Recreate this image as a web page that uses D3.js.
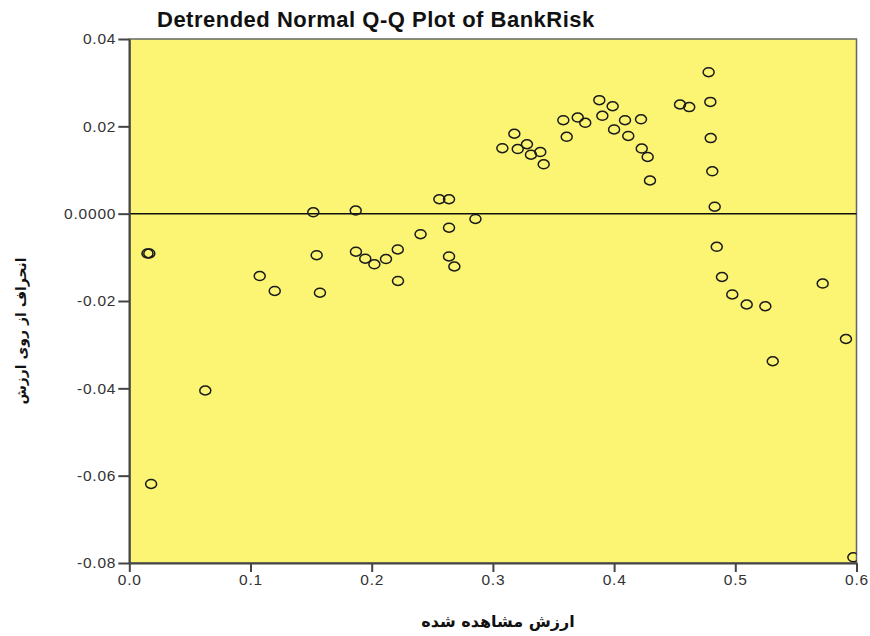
<!DOCTYPE html>
<html>
<head>
<meta charset="utf-8">
<script src="https://cdn.jsdelivr.net/npm/d3@7"></script>
<style>
  body { margin: 0; background: #fff; }
  svg text { font-family: "Liberation Sans", Arial, sans-serif; }
</style>
</head>
<body>
<div id="chart"></div>
<script>
const observed = [
  0.0150, 0.0165, 0.0180, 0.0627, 0.1076, 0.1200, 0.1518, 0.1546, 0.1573, 0.1868,
  0.1870, 0.1947, 0.2022, 0.2118, 0.2215, 0.2217, 0.2403, 0.2558, 0.2638, 0.2638,
  0.2638, 0.2682, 0.2856, 0.3078, 0.3177, 0.3205, 0.3281, 0.3314, 0.3391, 0.3419,
  0.3581, 0.3609, 0.3700, 0.3762, 0.3878, 0.3903, 0.3988, 0.4000, 0.4090, 0.4117,
  0.4222, 0.4228, 0.4277, 0.4296, 0.4544, 0.4620, 0.4780, 0.4794, 0.4797, 0.4810,
  0.4830, 0.4847, 0.4890, 0.4975, 0.5094, 0.5248, 0.5309, 0.5721, 0.5913, 0.5974
]
const deviation = [
  -0.0091, -0.0091, -0.0619, -0.0405, -0.0143, -0.0177, 0.0003, -0.0095, -0.0181, 0.0007,
  -0.0087, -0.0103, -0.0116, -0.0104, -0.0082, -0.0154, -0.0047, 0.0033, 0.0033, -0.0032,
  -0.0098, -0.0121, -0.0012, 0.0150, 0.0183, 0.0148, 0.0159, 0.0135, 0.0141, 0.0113,
  0.0214, 0.0176, 0.0220, 0.0208, 0.0260, 0.0224, 0.0246, 0.0193, 0.0214, 0.0178,
  0.0216, 0.0149, 0.0130, 0.0076, 0.0250, 0.0244, 0.0324, 0.0256, 0.0173, 0.0097,
  0.0016, -0.0076, -0.0145, -0.0185, -0.0208, -0.0212, -0.0338, -0.0160, -0.0287, -0.0787
]
const xTicks = [0, 0.1, 0.2, 0.3, 0.4, 0.5, 0.6],
      xTickLabels = ['0.0', '0.1', '0.2', '0.3', '0.4', '0.5', '0.6']
const yTicks = [0.04, 0.02, 0, -0.02, -0.04, -0.06, -0.08],
      yTickLabels = ['0.04', '0.02', '0.0000', '-0.02', '-0.04', '-0.06', '-0.08']

const title = 'Detrended Normal Q-Q Plot of BankRisk',
      xTitle = 'ارزش مشاهده شده',
      yTitle = 'انحراف از روی ارزش'

const width = 870,
      height = 636,
      plotLeft = 129.3,
      plotRight = 856.5,
      plotTop = 39,
      plotBottom = 563

const xScale = d3.scaleLinear().domain([0, 0.6]).range([plotLeft, plotRight]),
      yScale = d3.scaleLinear().domain([-0.08, 0.04]).range([plotBottom, plotTop])

const svg = d3.select('#chart')
              .append('svg')
              .attr('width', width)
              .attr('height', height)

svg.append('defs')
   .append('clipPath')
   .attr('id', 'plot-clip')
   .append('rect')
   .attr('x', plotLeft)
   .attr('y', plotTop)
   .attr('width', plotRight - plotLeft)
   .attr('height', plotBottom - plotTop)

// plot background + frame
svg.append('rect')
   .attr('x', plotLeft)
   .attr('y', plotTop)
   .attr('width', plotRight - plotLeft)
   .attr('height', plotBottom - plotTop)
   .attr('fill', '#fbf573')
   .attr('stroke', '#666')
   .attr('stroke-width', 1.5)

// zero reference line
svg.append('line')
   .attr('x1', plotLeft)
   .attr('x2', plotRight)
   .attr('y1', yScale(0))
   .attr('y2', yScale(0))
   .attr('stroke', '#111')
   .attr('stroke-width', 1.5)

const points = observed.map(function(d, i) { return [d, deviation[i]] })

svg.append('g')
   .attr('clip-path', 'url(#plot-clip)')
   .selectAll('ellipse')
   .data(points)
   .enter()
   .append('ellipse')
   .attr('cx', function(d) { return xScale(d[0]) })
   .attr('cy', function(d) { return yScale(d[1]) })
   .attr('rx', 5.5)
   .attr('ry', 4.5)
   .attr('fill', 'none')
   .attr('stroke', '#1a1a1a')
   .attr('stroke-width', 1.5)

const xAxis = d3.axisBottom(xScale)
                .tickValues(xTicks)
                .tickFormat(function(d, i) { return xTickLabels[i] })
                .tickSize(9)
                .tickSizeOuter(0)
                .tickPadding(2),
      yAxis = d3.axisLeft(yScale)
                .tickValues(yTicks)
                .tickFormat(function(d, i) { return yTickLabels[i] })
                .tickSize(11)
                .tickSizeOuter(0)
                .tickPadding(2)

const gx = svg.append('g')
              .attr('transform', 'translate(0, ' + plotBottom + ')')
              .call(xAxis),
      gy = svg.append('g')
              .attr('transform', 'translate(' + plotLeft + ', 0)')
              .call(yAxis)

;[gx, gy].forEach(function(g) {
  g.select('.domain').attr('stroke', '#444').attr('stroke-width', 2)
  g.selectAll('.tick line').attr('stroke', '#444').attr('stroke-width', 2)
  g.selectAll('.tick text')
   .attr('fill', '#333')
   .style('font-size', '15.5px')
   .style('letter-spacing', '0.8px')
   .style('font-family', '"Liberation Sans", Arial, sans-serif')
})

svg.append('text')
   .attr('x', 157)
   .attr('y', 27)
   .attr('font-size', 22)
   .attr('font-weight', 'bold')
   .style('letter-spacing', '0.5px')
   .attr('fill', '#111')
   .text(title)

svg.append('text')
   .attr('x', 498)
   .attr('y', 627)
   .attr('text-anchor', 'middle')
   .attr('font-size', 16)
   .attr('font-weight', 'bold')
   .style('font-family', '"DejaVu Sans", sans-serif')
   .attr('fill', '#111')
   .text(xTitle)

svg.append('text')
   .attr('transform', 'translate(26, 331) rotate(-90)')
   .attr('text-anchor', 'middle')
   .attr('font-size', 14)
   .attr('font-weight', 'bold')
   .style('font-family', '"DejaVu Sans", sans-serif')
   .attr('fill', '#111')
   .text(yTitle)
</script>
</body>
</html>
